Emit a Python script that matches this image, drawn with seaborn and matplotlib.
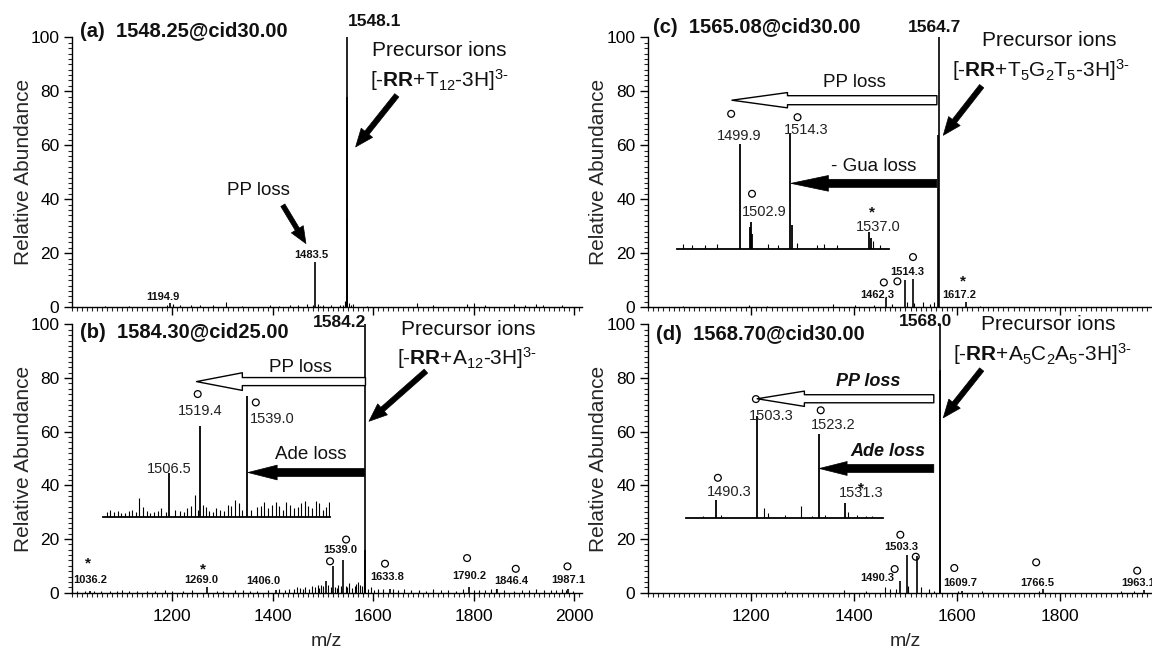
import matplotlib
matplotlib.use("Agg")
import matplotlib.pyplot as plt
from matplotlib.ticker import MultipleLocator, FixedLocator
import seaborn as sns

# ---------------------------------------------------------------- data
# panel (a)  1548.25@cid30.00
a_peak_mz = [1548.1, 1547.6, 1547.0, 1483.5, 1194.9]
a_peak_int = [100.0, 78.0, 33.0, 16.7, 1.6]
a_noise_mz = [1065, 1113, 1189.5, 1200.5, 1215, 1237, 1255, 1281, 1306.6, 1339.5,
              1394, 1413, 1435, 1449.3, 1467.6, 1480, 1490, 1495, 1500.5, 1515,
              1533.4, 1540, 1544.4, 1551, 1555, 1559, 1588, 1687, 1720, 1786, 1800,
              1822, 1881, 1903, 1925, 1939, 1976]
a_noise_int = [0.4, 0.4, 1.0, 1.2, 0.8, 0.9, 0.7, 0.8, 1.8, 0.6,
               0.8, 0.6, 1.0, 0.8, 1.2, 1.0, 1.2, 0.6, 1.0, 0.8,
               0.7, 1.0, 2.5, 1.5, 0.8, 1.2, 0.5, 1.5, 0.7, 1.2, 1.4,
               0.8, 1.2, 1.0, 1.3, 1.0, 0.7]

# panel (b)  1584.30@cid25.00
b_peak_mz = [1584.2, 1583.5, 1539.0, 1519.4, 1506.5, 1633.8, 1790.2, 1846.4,
             1987.1, 1036.2, 1269.0, 1406.0]
b_peak_int = [100.0, 16.0, 12.3, 10.0, 4.2, 1.5, 2.0, 1.5, 1.2, 0.8, 2.2, 1.0]
b_noise_mz = [1010, 1025, 1043, 1058, 1076, 1090, 1100, 1113, 1130, 1149, 1165,
              1186, 1200, 1222, 1240, 1288, 1300, 1325, 1340, 1355, 1369, 1390,
              1413, 1425, 1433, 1442, 1448, 1455, 1460, 1464, 1472, 1479, 1485,
              1489.5, 1493, 1496, 1500, 1510, 1515, 1523, 1527, 1530, 1535, 1545,
              1548, 1552, 1558, 1563, 1565, 1570, 1574, 1578, 1581, 1590, 1595.6,
              1602, 1610, 1620, 1639.5, 1650, 1661, 1675, 1691, 1705, 1720, 1735,
              1749, 1765, 1778, 1800, 1810, 1822, 1835, 1844, 1860, 1880, 1895.6,
              1910, 1925, 1940, 1954, 1965, 1976, 1985, 1998]
b_noise_int = [0.6, 0.5, 0.8, 0.7, 0.6, 0.5, 0.9, 0.8, 0.6, 0.7, 0.8,
               0.9, 0.6, 0.8, 0.9, 0.8, 0.7, 1.0, 0.9, 0.6, 0.8, 0.9,
               1.2, 1.0, 1.4, 1.5, 2.0, 1.8, 1.2, 2.0, 1.3, 2.5, 2.2,
               3.0, 1.6, 2.8, 2.5, 3.0, 2.0, 2.2, 1.8, 3.0, 2.5, 2.6,
               2.0, 3.5, 1.8, 2.5, 3.2, 3.8, 3.0, 2.4, 4.0, 1.5, 2.0,
               1.0, 1.5, 1.2, 1.5, 0.9, 1.2, 1.0, 1.0, 0.8, 1.2, 0.9,
               1.0, 0.8, 1.2, 1.0, 0.9, 1.0, 1.2, 1.5, 1.0, 0.8, 1.0,
               1.0, 1.2, 0.9, 1.0, 1.1, 1.5, 0.9, 0.8]
b_inset_mz = [1506.5, 1519.4, 1539.0]
b_inset_int = [35.2, 72.5, 97.0]
b_inset_noise_mz = [1480.5, 1481.9, 1483.4, 1485.0, 1486.5, 1488.0, 1489.6, 1491.0,
                    1492.8, 1494.1, 1495.5, 1497.2, 1498.7, 1500.3, 1501.8, 1503.3,
                    1505.0, 1509.0, 1511.0, 1512.5, 1514.0, 1515.5, 1517.1, 1518.5,
                    1520.5, 1521.7, 1523.0, 1524.7, 1526.2, 1527.8, 1529.3, 1530.9,
                    1532.4, 1533.9, 1535.5, 1537.0, 1540.5, 1543.1, 1544.6, 1546.2,
                    1547.7, 1549.2, 1550.8, 1552.3, 1553.8, 1555.3, 1556.9, 1558.4,
                    1560.0, 1561.5, 1563.0, 1564.5, 1566.0, 1567.6, 1569.1, 1570.6,
                    1571.8, 1572.9]
b_inset_noise_int = [4, 6, 4, 5, 3, 3, 5, 6,
                     4, 15, 8, 5, 3, 4, 5, 7,
                     4, 6, 5, 4, 7, 9, 18, 6,
                     10, 8, 5, 4, 7, 6, 5, 10,
                     9, 14, 11, 6, 6, 8, 9, 12,
                     7, 10, 12, 9, 6, 12, 10, 7,
                     8, 11, 13, 9, 7, 13, 11, 6,
                     8, 12]

# panel (c)  1565.08@cid30.00
c_peak_mz = [1564.7, 1563.9, 1514.3, 1499.9, 1462.3, 1617.2]
c_peak_int = [100.0, 63.7, 10.3, 10.0, 3.3, 2.0]
c_noise_mz = [1067, 1195.4, 1231, 1359.4, 1402, 1438, 1473.6, 1502, 1516.3, 1534,
              1548.4, 1555.6, 1644.7]
c_noise_int = [0.5, 0.8, 0.6, 1.2, 1.0, 0.8, 1.2, 2.0, 1.5, 1.8, 1.2, 2.0, 0.5]
c_inset_mz = [1499.9, 1502.6, 1502.9, 1503.4, 1514.3, 1514.8, 1537.0, 1537.6]
c_inset_int = [87.5, 18.0, 22.0, 12.0, 96.0, 20.0, 14.0, 9.0]
c_inset_noise_mz = [1483.5, 1485.9, 1489.8, 1493.1, 1508.0, 1510.9, 1516.2, 1522.0,
                    1523.9, 1527.7, 1538.2, 1540.1]
c_inset_noise_int = [4, 3, 3, 4, 4, 3, 5, 3, 4, 3, 6, 3]

# panel (d)  1568.70@cid30.00
d_peak_mz = [1568.0, 1567.4, 1503.3, 1523.2, 1490.3, 1609.7, 1766.5, 1963.1]
d_peak_int = [100.0, 83.0, 14.1, 13.5, 4.2, 0.8, 1.2, 1.0]
d_noise_mz = [1266.7, 1380.8, 1423.6, 1459.3, 1470, 1480.7, 1505.7, 1530.6, 1545,
              1555.5, 1602, 1648.3, 1760, 1919, 1944]
d_noise_int = [0.8, 1.0, 0.8, 2.0, 1.2, 1.5, 2.5, 2.0, 1.5, 0.8, 0.6, 0.5, 0.8, 0.5, 0.6]
d_inset_mz = [1490.3, 1503.3, 1523.2, 1531.3]
d_inset_int = [16.6, 93.0, 76.6, 13.6]
d_inset_noise_mz = [1486.3, 1492.0, 1505.6, 1507.0, 1512.5, 1517.4, 1521.0, 1525.0,
                    1532.5, 1535.1, 1538.0, 1540.0]
d_inset_noise_int = [2, 3, 9, 4, 3, 10.6, 2, 3, 5, 3, 2, 2]

x_tick_labels_left = [1200, 1400, 1600, 1800, 2000]
x_tick_labels_right = [1200, 1400, 1600, 1800]
y_tick_labels = [0, 20, 40, 60, 80, 100]

# ---------------------------------------------------------------- style
sns.set_theme(style="ticks")
plt.rcParams["font.family"] = ["Liberation Sans", "DejaVu Sans"]
plt.rcParams["mathtext.fontset"] = "custom"
plt.rcParams["mathtext.rm"] = "Liberation Sans"
plt.rcParams["mathtext.it"] = "Liberation Sans:italic"
plt.rcParams["mathtext.bf"] = "Liberation Sans:bold"

fig = plt.figure(figsize=(11.52, 6.51), dpi=100)
axA = fig.add_axes([0.0625, 0.528, 0.4423, 0.4147])
axB = fig.add_axes([0.0625, 0.0896, 0.4423, 0.412])
axC = fig.add_axes([0.5625, 0.528, 0.447, 0.4147])
axD = fig.add_axes([0.5625, 0.0896, 0.447, 0.412])

TXT = "#111111"


def style_axis(ax, xlim, xticks, show_x):
    ax.set_xlim(*xlim)
    ax.set_ylim(0, 100)
    ax.xaxis.set_major_locator(FixedLocator(xticks))
    ax.xaxis.set_minor_locator(MultipleLocator(10))
    ax.yaxis.set_major_locator(FixedLocator(y_tick_labels))
    ax.yaxis.set_minor_locator(MultipleLocator(2))
    ax.tick_params(which="major", direction="out", length=6, width=1,
                   labelsize=12.5, colors="black", pad=3)
    ax.tick_params(which="minor", direction="out", length=3, width=0.8)
    ax.tick_params(axis="x", which="major", pad=6, labelbottom=show_x)
    sns.despine(ax=ax)
    for s in ("left", "bottom"):
        ax.spines[s].set_linewidth(1.0)
        ax.spines[s].set_color("black")
    ax.set_facecolor("none")
    ax.set_ylabel("Relative Abundance", fontsize=15)
    ax.yaxis.set_label_coords(-0.077, 0.5)
    if show_x:
        ax.set_xlabel("m/z", fontsize=14)
        ax.xaxis.set_label_coords(0.5, -0.15)


def sticks(ax, mz, inten, lw=1.2):
    ax.vlines(mz, 0, inten, colors="black", lw=lw)


def circles(ax, xs, ys):
    sns.scatterplot(x=xs, y=ys, ax=ax, marker="o", s=24, facecolor="none",
                    edgecolor="black", linewidth=0.9, clip_on=False,
                    legend=False, zorder=6)


def star(ax, x, y, size=11):
    ax.text(x, y, "*", ha="center", va="center", fontsize=size,
            fontweight="bold", color=TXT)


def small(ax, x, y, s):
    ax.text(x, y, s, ha="center", va="center", fontsize=8,
            fontweight="bold", color=TXT)


def ilabel(ax, x, y, s):
    ax.text(x, y, s, ha="center", va="center", fontsize=10.5, color="#222222")


def arrow(ax, head, tail, hl, hw, tw, open_=False):
    style = f"simple,head_length={hl},head_width={hw},tail_width={tw}"
    ax.annotate("", xy=head, xytext=tail,
                arrowprops=dict(arrowstyle=style, mutation_scale=1,
                                fc="white" if open_ else "black", ec="black",
                                lw=1.0 if open_ else 0.5,
                                shrinkA=0, shrinkB=0), zorder=7)


def make_inset(ax, bounds, xlim):
    ins = ax.inset_axes(bounds, transform=ax.transData)
    ins.set_xlim(*xlim)
    ins.set_ylim(0, 100)
    for s in ("left", "right", "top"):
        ins.spines[s].set_visible(False)
    ins.spines["bottom"].set_linewidth(1.3)
    ins.spines["bottom"].set_color("black")
    ins.tick_params(left=False, labelleft=False, bottom=False, labelbottom=False)
    ins.patch.set_alpha(0)
    return ins


def precursor(ax, xy1, xy2, formula, size=15):
    ax.text(*xy1, "Precursor ions", ha="center", va="center", fontsize=size, color=TXT)
    ax.text(*xy2, formula, ha="center", va="center", fontsize=size, color=TXT)


SUP = r"$^{3\text{-}}$"

# ---------------------------------------------------------------- panel (a)
ax = axA
style_axis(ax, (1000, 2015), x_tick_labels_left, False)
sticks(ax, a_noise_mz, a_noise_int, lw=0.8)
sticks(ax, a_peak_mz, a_peak_int, lw=1.2)
ax.text(1016, 102.3, "(a)  1548.25@cid30.00", ha="left", va="center",
        fontsize=14.5, fontweight="bold", color=TXT)
ax.text(1603, 105.7, "1548.1", ha="center", va="center", fontsize=12.5,
        fontweight="bold", color=TXT)
small(ax, 1477, 19.3, "1483.5")
small(ax, 1182, 3.9, "1194.9")
ax.text(1372, 43.3, "PP loss", ha="center", va="center", fontsize=13.5, color=TXT)
arrow(ax, (1466, 23.6), (1420, 37.8), 12, 10, 3.4)
precursor(ax, (1732, 95.2), (1731, 84),
          r"[$\mathbf{\text{-}RR}$+T$_{12}$-3H]" + SUP)
arrow(ax, (1565, 59.4), (1647, 78.5), 13, 10.5, 3.8)

# ---------------------------------------------------------------- panel (b)
ax = axB
style_axis(ax, (1000, 2015), x_tick_labels_left, True)
sticks(ax, b_noise_mz, b_noise_int, lw=0.8)
sticks(ax, b_peak_mz, b_peak_int, lw=1.2)
ax.text(1016, 96.9, "(b)  1584.30@cid25.00", ha="left", va="center",
        fontsize=14.5, fontweight="bold", color=TXT)
ax.text(1532, 100.7, "1584.2", ha="center", va="center", fontsize=12.5,
        fontweight="bold", color=TXT)
for x, y, s in [(1037, 4.6, "1036.2"), (1257, 4.6, "1269.0"), (1381, 4.2, "1406.0"),
                (1535, 15.8, "1539.0"), (1628.5, 5.7, "1633.8"), (1791, 6.2, "1790.2"),
                (1875, 4.2, "1846.4"), (1988, 4.8, "1987.1")]:
    small(ax, x, y, s)
circles(ax, [1546, 1514, 1623.5, 1787, 1884, 1987], [19.8, 11.7, 10.8, 12.9, 8.9, 9.8])
star(ax, 1032, 11.0)
star(ax, 1260.5, 8.8)
ax.text(1455, 83.8, "PP loss", ha="center", va="center", fontsize=13.5, color=TXT)
arrow(ax, (1248, 78.7), (1584.6, 78.7), 33, 12.7, 5.8, open_=True)
ax.text(1475, 51.5, "Ade loss", ha="center", va="center", fontsize=13.5, color=TXT)
arrow(ax, (1350.6, 44.8), (1582.5, 44.8), 21, 10.6, 5.8)
precursor(ax, (1789.5, 98.1), (1786, 87.6),
          r"[$\mathbf{\text{-}RR}$+A$_{12}$-3H]" + SUP)
arrow(ax, (1591.6, 63.9), (1705, 82.6), 13, 10.5, 3.8)
ins = make_inset(ax, [1061, 28.2, 452, 46.6], (1478.8, 1573.3))
sticks(ins, b_inset_noise_mz, b_inset_noise_int, lw=0.8)
sticks(ins, b_inset_mz, b_inset_int, lw=1.3)
ilabel(ins, 1519.3, 84.5, "1519.4")
ilabel(ins, 1549.3, 78.4, "1539.0")
ilabel(ins, 1506.6, 38.4, "1506.5")
circles(ins, [1518.4, 1542.6], [98.4, 91.7])

# ---------------------------------------------------------------- panel (c)
ax = axC
style_axis(ax, (1000, 2000), x_tick_labels_right, False)
sticks(ax, c_noise_mz, c_noise_int, lw=0.8)
sticks(ax, c_peak_mz, c_peak_int, lw=1.2)
ax.text(1010, 103.6, "(c)  1565.08@cid30.00", ha="left", va="center",
        fontsize=14.5, fontweight="bold", color=TXT)
ax.text(1557, 103.8, "1564.7", ha="center", va="center", fontsize=12.5,
        fontweight="bold", color=TXT)
small(ax, 1503.5, 13.1, "1514.3")
small(ax, 1444.7, 4.6, "1462.3")
small(ax, 1605, 4.6, "1617.2")
circles(ax, [1514.6, 1458, 1484.3], [18.6, 9.2, 9.6])
star(ax, 1612.6, 9.5)
ax.text(1400, 83.1, "PP loss", ha="center", va="center", fontsize=13.5, color=TXT)
arrow(ax, (1163, 76.7), (1561, 76.7), 40, 11, 6.5, open_=True)
ax.text(1439, 52, "- Gua loss", ha="center", va="center", fontsize=13.5, color=TXT)
arrow(ax, (1277.5, 45.9), (1561, 45.9), 27, 11.3, 5.8)
precursor(ax, (1778.6, 99), (1762, 87.8),
          r"[$\mathbf{\text{-}RR}$+T$_5$G$_2$T$_5$-3H]" + SUP)
arrow(ax, (1573.4, 63.7), (1648, 81.9), 13, 10.5, 3.8)
ins = make_inset(ax, [1056.9, 21.7, 411.6, 44.4], (1481.8, 1542.8))
sticks(ins, c_inset_noise_mz, c_inset_noise_int, lw=0.8)
sticks(ins, c_inset_mz, c_inset_int, lw=1.3)
ilabel(ins, 1499.6, 94.4, "1499.9")
ilabel(ins, 1518.8, 99.0, "1514.3")
ilabel(ins, 1506.7, 30.5, "1502.9")
ilabel(ins, 1539.6, 18.5, "1537.0")
circles(ins, [1497.3, 1516.4, 1503.3], [112.5, 109.7, 45.8])
star(ins, 1537.9, 30.5)

# ---------------------------------------------------------------- panel (d)
ax = axD
style_axis(ax, (1000, 2000), x_tick_labels_right, True)
sticks(ax, d_noise_mz, d_noise_int, lw=0.8)
sticks(ax, d_peak_mz, d_peak_int, lw=1.2)
ax.text(1015.5, 96.3, "(d)  1568.70@cid30.00", ha="left", va="center",
        fontsize=14.5, fontweight="bold", color=TXT)
ax.text(1538, 101.2, "1568.0", ha="center", va="center", fontsize=12.5,
        fontweight="bold", color=TXT)
for x, y, s in [(1491, 17, "1503.3"), (1445, 5.5, "1490.3"), (1605.8, 3.6, "1609.7"),
                (1756, 3.6, "1766.5"), (1951.5, 3.6, "1963.1")]:
    small(ax, x, y, s)
circles(ax, [1490, 1520, 1479, 1594.8, 1753.8, 1950], [21.6, 13.4, 8.8, 9.2, 11.3, 8.2])
ax.text(1427, 78.8, "PP loss", ha="center", va="center", fontsize=13,
        fontweight="bold", style="italic", color=TXT)
arrow(ax, (1212, 72.3), (1555, 72.3), 34, 11, 5.8, open_=True)
ax.text(1465, 52.7, "Ade loss", ha="center", va="center", fontsize=13,
        fontweight="bold", style="italic", color=TXT)
arrow(ax, (1332.7, 46.3), (1555, 46.3), 20, 10, 5.8)
precursor(ax, (1776.7, 100), (1766, 88.8),
          r"[$\mathbf{\text{-}RR}$+A$_5$C$_2$A$_5$-3H]" + SUP)
arrow(ax, (1573.4, 65.2), (1648, 83.2), 13, 10.5, 3.8)
ins = make_inset(ax, [1074, 27.9, 381.7, 41], (1480.9, 1543.4))
sticks(ins, d_inset_noise_mz, d_inset_noise_int, lw=0.8)
sticks(ins, d_inset_mz, d_inset_int, lw=1.3)
ilabel(ins, 1507.9, 92.4, "1503.3")
ilabel(ins, 1527.8, 84.8, "1523.2")
ilabel(ins, 1494.5, 23.3, "1490.3")
ilabel(ins, 1536.5, 22.7, "1531.3")
circles(ins, [1503.1, 1523.7, 1491.0], [108, 97.8, 36.4])
star(ins, 1536.5, 27.0)

fig.savefig("out.png", dpi=100)
